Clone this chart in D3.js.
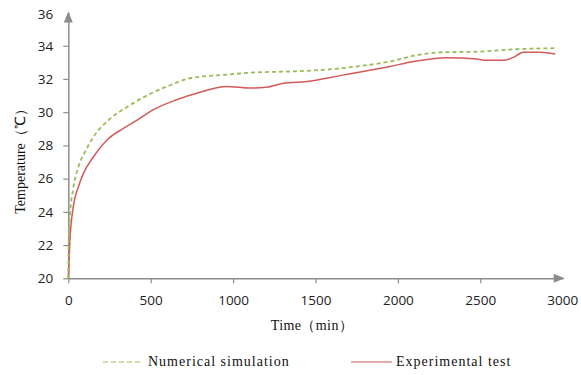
<!DOCTYPE html>
<html>
<head>
<meta charset="utf-8">
<script src="https://cdn.jsdelivr.net/npm/d3@7"></script>
<style>
  body { margin: 0; background: #fff; }
  .tick text { font-family: "Open Sans", "Liberation Sans", sans-serif; font-size: 13.5px; fill: #222; }
</style>
</head>
<body>
<div id="chart"></div>
<script>
// time (min) and temperature (°C)
var simTime = [0, 3, 10, 30, 61, 101, 152, 253, 354, 496, 637, 740, 950, 1150, 1350, 1550, 1750, 1950, 2100, 2250, 2500, 2740, 2950];
var simTemp = [20, 22.5, 23.8, 25.4, 26.7, 27.6, 28.5, 29.6, 30.3, 31.1, 31.7, 32.05, 32.25, 32.4, 32.45, 32.55, 32.75, 33.05, 33.4, 33.6, 33.65, 33.8, 33.85];

var expTime = [0, 10, 30, 61, 91, 152, 243, 330, 415, 516, 658, 800, 960, 1103, 1200, 1305, 1447, 1649, 1790, 1952, 2094, 2296, 2478, 2540, 2640, 2700, 2761, 2862, 2954];
var expTemp = [20, 22.3, 24.3, 25.5, 26.3, 27.3, 28.4, 29.0, 29.5, 30.15, 30.75, 31.2, 31.55, 31.45, 31.5, 31.74, 31.84, 32.2, 32.45, 32.75, 33.05, 33.28, 33.2, 33.12, 33.12, 33.3, 33.6, 33.6, 33.5];

var xTicks = [0, 500, 1000, 1500, 2000, 2500, 3000];
var yTicks = [20, 22, 24, 26, 28, 30, 32, 34, 36];
var seriesNames = ["Numerical simulation", "Experimental test"];

var w = 581, h = 375;
var padLeft = 68.3, padRight = 562.7, padTop = 12.5, padBottom = 278.3;

var svg = d3.select("#chart").append("svg")
  .attr("width", w)
  .attr("height", h);

var x = d3.scaleLinear().domain([0, 3000]).range([padLeft, padRight]);
var y = d3.scaleLinear().domain([20, 36]).range([padBottom, padTop]);

var axisColor = "#8c8c8c";

// axes
var xAxis = svg.append("g")
  .attr("transform", "translate(0," + padBottom + ")")
  .call(d3.axisBottom(x).tickValues(xTicks.slice(0, 6)).tickFormat(d3.format("d"))
    .tickSize(5).tickSizeOuter(0).tickPadding(12));
var yAxis = svg.append("g")
  .attr("transform", "translate(" + padLeft + ",0)")
  .call(d3.axisLeft(y).tickValues(yTicks.slice(0, 8)).tickFormat(d3.format("d"))
    .tickSize(5).tickSizeOuter(0).tickPadding(10));

[xAxis, yAxis].forEach(function(g) {
  g.select(".domain").attr("stroke", axisColor).attr("stroke-width", 1.5);
  g.selectAll(".tick line").attr("stroke", axisColor).attr("stroke-width", 1.2);
});

// end labels sitting at the arrow heads
xAxis.append("g").attr("class", "tick")
  .append("text").attr("x", x(3000)).attr("y", 17).attr("dy", "0.71em").attr("text-anchor", "middle").text(xTicks[6]);
yAxis.append("g").attr("class", "tick")
  .append("text").attr("x", -15).attr("y", y(36) + 2).attr("dy", "0.32em").attr("text-anchor", "end").text(yTicks[8]);

// arrows
svg.append("path")
  .attr("d", "M" + padLeft + "," + (y(36) - 1) + "l-4.5,11l9,0z")
  .attr("fill", axisColor);
svg.append("path")
  .attr("d", "M" + (x(3000) + 2) + "," + padBottom + "l-11,-4.5l0,9z")
  .attr("fill", axisColor);

var line = d3.line()
  .x(function(d) { return x(d[0]); })
  .y(function(d) { return y(d[1]); })
  .curve(d3.curveMonotoneX);

svg.append("path")
  .datum(d3.zip(expTime, expTemp))
  .attr("fill", "none")
  .attr("stroke", "#d55a57")
  .attr("stroke-width", 1.5)
  .attr("d", line);

svg.append("path")
  .datum(d3.zip(simTime, simTemp))
  .attr("fill", "none")
  .attr("stroke", "#9bbb59")
  .attr("stroke-width", 1.8)
  .attr("stroke-dasharray", "4,3")
  .attr("d", line);

// axis titles
svg.append("text")
  .text("Time（min）")
  .attr("x", 312)
  .attr("y", 330)
  .attr("text-anchor", "middle")
  .attr("font-family", "Liberation Serif, serif")
  .attr("font-size", "14px")
  .attr("letter-spacing", "0.4px")
  .attr("fill", "#111");

svg.append("text")
  .text("Temperature（℃）")
  .attr("transform", "rotate(-90)")
  .attr("x", -158)
  .attr("y", 25)
  .attr("text-anchor", "middle")
  .attr("font-family", "Liberation Serif, serif")
  .attr("font-size", "14px")
  .attr("fill", "#111");

// legend
var legend = svg.append("g")
  .attr("font-family", "Liberation Serif, serif")
  .attr("font-size", "14px")
  .attr("letter-spacing", "1px")
  .attr("fill", "#111");
legend.append("line")
  .attr("x1", 103).attr("x2", 143).attr("y1", 362).attr("y2", 362)
  .attr("stroke", "#9bbb59").attr("stroke-width", 1).attr("stroke-dasharray", "5,3");
legend.append("text").attr("x", 148).attr("y", 366).text(seriesNames[0]);
legend.append("line")
  .attr("x1", 351).attr("x2", 392).attr("y1", 362).attr("y2", 362)
  .attr("stroke", "#d55a57").attr("stroke-width", 1);
legend.append("text").attr("x", 396).attr("y", 366).text(seriesNames[1]);
</script>
</body>
</html>
